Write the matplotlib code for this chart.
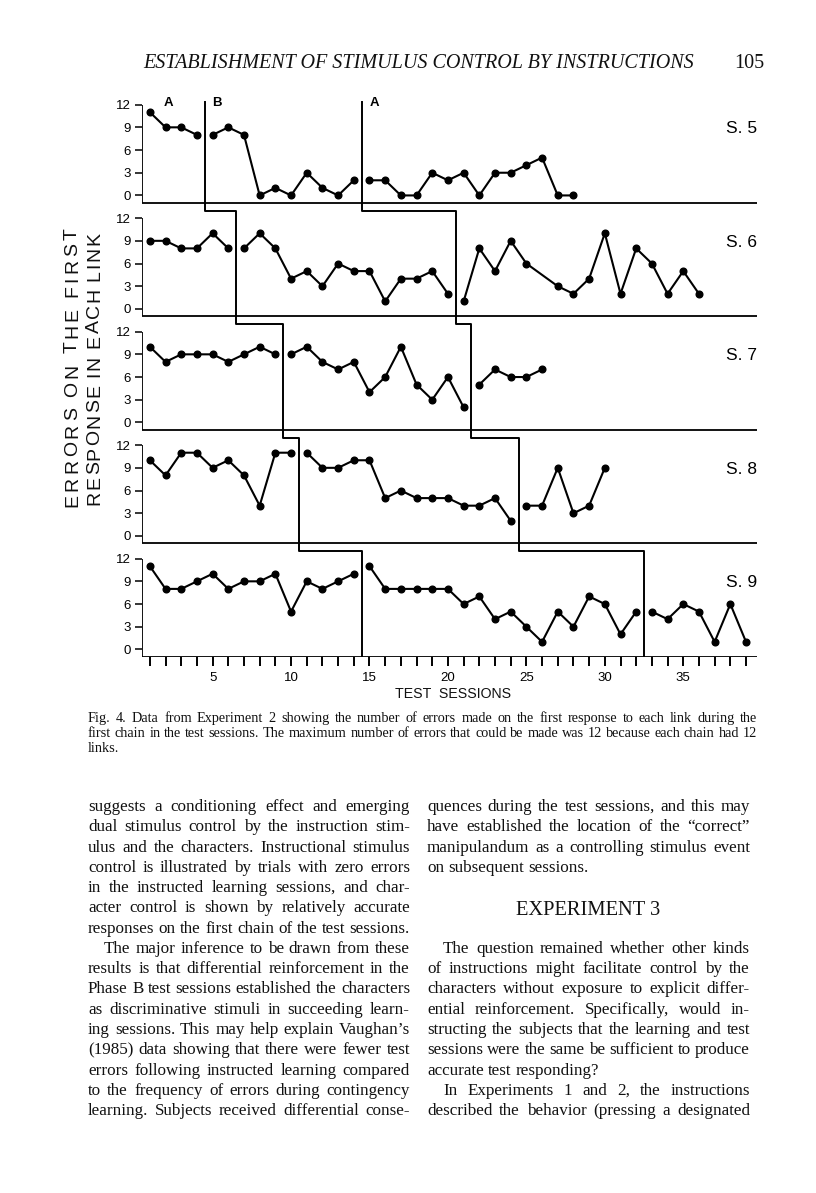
import numpy as np
import matplotlib
matplotlib.use('Agg')
import matplotlib.pyplot as plt

W, H = 816, 1193
SANS = 'Liberation Sans'
SERIF = 'Liberation Serif'
plt.rcParams['font.family'] = SANS

# ---- chart data -------------------------------------------------------
subjects = ['S. 5', 'S. 6', 'S. 7', 'S. 8', 'S. 9']
session_ticks = list(range(1, 40))
session_labels = [str(s) if s % 5 == 0 else '' for s in session_ticks]
error_ticks = [0, 3, 6, 9, 12]

# first session of phase B and of the return to phase A, per subject
b_start = [5, 7, 10, 11, 15]
a_start = [15, 21, 22, 25, 33]

phase_a1 = [
    [11, 9, 9, 8],
    [9, 9, 8, 8, 10, 8],
    [10, 8, 9, 9, 9, 8, 9, 10, 9],
    [10, 8, 11, 11, 9, 10, 8, 4, 11, 11],
    [11, 8, 8, 9, 10, 8, 9, 9, 10, 5, 9, 8, 9, 10],
]
phase_b = [
    [8, 9, 8, 0, 1, 0, 3, 1, 0, 2],
    [8, 10, 8, 4, 5, 3, 6, 5, 5, 1, 4, 4, 5, 2],
    [9, 10, 8, 7, 8, 4, 6, 10, 5, 3, 6, 2],
    [11, 9, 9, 10, 10, 5, 6, 5, 5, 5, 4, 4, 5, 2],
    [11, 8, 8, 8, 8, 8, 6, 7, 4, 5, 3, 1, 5, 3, 7, 6, 2, 5],
]
phase_a2 = [
    [2, 2, 0, 0, 3, 2, 3, 0, 3, 3, 4, 5, 0, 0],
    [1, 8, 5, 9, 6, None, 3, 2, 4, 10, 2, 8, 6, 2, 5, 2],
    [5, 7, 6, 6, 7],
    [4, 4, 9, 3, 4, 9],
    [5, 4, 6, 5, 1, 6, 1],
]
phase_names = ['A', 'B', 'A']
phase_name_x = [2.2, 5.3, 15.3]

# ---- page text ----------------------------------------------------------
header = 'ESTABLISHMENT OF STIMULUS CONTROL BY INSTRUCTIONS'
page_no = '105'
caption = [
    'Fig. 4.  Data from Experiment 2 showing the number of errors made on the first response to each link during the',
    'first chain in the test sessions. The maximum number of errors that could be made was 12 because each chain had 12',
    'links.',
]
left_col = [
    'suggests a conditioning effect and emerging',
    'dual stimulus control by the instruction stim-',
    'ulus and the characters. Instructional stimulus',
    'control is illustrated by trials with zero errors',
    'in the instructed learning sessions, and char-',
    'acter control is shown by relatively accurate',
    'responses on the first chain of the test sessions.',
    '\tThe major inference to be drawn from these',
    'results is that differential reinforcement in the',
    'Phase B test sessions established the characters',
    'as discriminative stimuli in succeeding learn-',
    'ing sessions. This may help explain Vaughan\u2019s',
    '(1985) data showing that there were fewer test',
    'errors following instructed learning compared',
    'to the frequency of errors during contingency',
    'learning. Subjects received differential conse-',
]
right_top = [
    'quences during the test sessions, and this may',
    'have established the location of the \u201ccorrect\u201d',
    'manipulandum as a controlling stimulus event',
    'on subsequent sessions.',
]
right_bottom = [
    '\tThe question remained whether other kinds',
    'of instructions might facilitate control by the',
    'characters without exposure to explicit differ-',
    'ential reinforcement. Specifically, would in-',
    'structing the subjects that the learning and test',
    'sessions were the same be sufficient to produce',
    'accurate test responding?',
    '\tIn Experiments 1 and 2, the instructions',
    'described the behavior (pressing a designated',
]
ragged = {'on subsequent sessions.', 'accurate test responding?', 'links.'}

fig = plt.figure(figsize=(W / 100, H / 100), dpi=100)
renderer = fig.canvas.get_renderer()


def text_width(s, **kw):
    t = fig.text(0, 0, s, **kw)
    w = t.get_window_extent(renderer).width
    t.remove()
    return w


def put(x, y, s, **kw):
    # x, y in image pixels, y measured from the top
    return fig.text(x / W, 1 - y / H, s, **kw)


def set_line(line, x0, x1, base, justify, indent=16, **kw):
    if line.startswith('\t'):
        x0 += indent
    words = line.split()
    widths = [text_width(w, **kw) for w in words]
    if justify and len(words) > 1:
        gap = (x1 - x0 - sum(widths)) / (len(words) - 1)
    else:
        gap = text_width('a a', **kw) - text_width('aa', **kw)
    x = x0
    for w, wd in zip(words, widths):
        put(x, base, w, ha='left', va='baseline', color='#111', **kw)
        x += wd + gap


def fit_size(lines, width, indent=16, **kw):
    ratios = []
    for line in lines:
        if line in ragged:
            continue
        ind = indent if line.startswith('\t') else 0
        ratios.append((width - ind) / text_width(line.strip(), fontsize=10, **kw))
    return 10 * min(ratios)


def vertical_label(s, xc, y_bottom, y_top, size):
    ws = [text_width(c, fontsize=size) if c != ' ' else size * 0.3 for c in s]
    track = ((y_bottom - y_top) - sum(ws)) / (len(s) - 1)
    cap = 0.716 * size * 100 / 72
    pos = y_bottom
    for c, w in zip(s, ws):
        if c != ' ':
            put(xc + cap / 2, pos, c, rotation=90, rotation_mode='anchor',
                ha='left', va='baseline', fontsize=size, color='#111')
        pos -= w + track


# ---- chart --------------------------------------------------------------
x_left, x_right = 0.48, 39.7
ax = fig.add_axes([141.7 / W, 1 - 657 / H, (757 - 141.7) / W, (657 - 89.5) / H])
ax.set_xlim(x_left, x_right)
ax.set_ylim(-1, 74)
for sp in ax.spines.values():
    sp.set_visible(False)

offsets = [60, 45, 30, 15, 0]
for k, name in enumerate(subjects):
    off = offsets[k]
    ax.axhline(off - 1, color='k', lw=1.3)
    ax.vlines(x_left, off - 1, off + 12, color='k', lw=1.3)
    for start, vals in [(1, phase_a1[k]), (b_start[k], phase_b[k]), (a_start[k], phase_a2[k])]:
        x = np.arange(start, start + len(vals))
        y = np.array([np.nan if v is None else v for v in vals], dtype=float)
        keep = ~np.isnan(y)
        ax.plot(x[keep], y[keep] + off, '-o', color='k', lw=1.5, ms=4.8)
    ax.text(x_right, off + 8.8, name, ha='right', va='center', fontsize=12.5)

# phase-change staircase lines
for starts in (b_start, a_start):
    cx = [s - 0.5 for s in starts]
    xs, ys = [cx[0]], [offsets[0] + 12.3]
    for k in range(1, len(cx)):
        xs += [cx[k - 1], cx[k]]
        ys += [offsets[k] + 13, offsets[k] + 13]
    xs.append(cx[-1])
    ys.append(-1)
    ax.plot(xs, ys, color='k', lw=1.4)

for name, xp in zip(phase_names, phase_name_x):
    ax.text(xp, offsets[0] + 12.2, name, ha='center', va='center', fontsize=9.5, fontweight='bold')

ax.set_yticks([off + t for off in offsets for t in error_ticks],
              [str(t) for off in offsets for t in error_ticks])
ax.set_xticks(session_ticks, session_labels)
ax.tick_params(axis='y', direction='out', length=4.8, width=1.1, pad=3, labelsize=9.5)
ax.tick_params(axis='x', direction='out', length=6.5, width=1.4, pad=4, labelsize=9.5)

vertical_label('ERRORS ON THE FIRST', 70, 507, 228, 14)
vertical_label('RESPONSE IN EACH LINK', 92, 505, 232, 14)

ts = 'TEST  SESSIONS'
put(395, 698, ts, ha='left', va='baseline', color='#111',
    fontsize=10 * 116 / text_width(ts, fontsize=10))

# ---- page text ----------------------------------------------------------
hsize = 10 * 552 / text_width(header, fontsize=10, family=SERIF, style='italic')
put(143, 68, header, ha='left', va='baseline', fontsize=hsize, family=SERIF, style='italic', color='#111')
put(764, 68, page_no, ha='right', va='baseline', fontsize=hsize, family=SERIF, color='#111')

cap_x0, cap_x1 = 88, 757
csize = fit_size(caption, cap_x1 - cap_x0, family=SERIF)
for i, line in enumerate(caption):
    set_line(line, cap_x0, cap_x1, 722 + i * 15, line not in ragged, fontsize=csize, family=SERIF)

lx0, lx1, rx0, rx1 = 88, 410, 427, 750
bsize = min(fit_size(left_col, lx1 - lx0, family=SERIF),
            fit_size(right_top + right_bottom, rx1 - rx0, family=SERIF))
base0, step = 811, 20.27
for i, line in enumerate(left_col):
    set_line(line, lx0, lx1, base0 + i * step, line not in ragged, fontsize=bsize, family=SERIF)
for i, line in enumerate(right_top):
    set_line(line, rx0, rx1, base0 + i * step, line not in ragged, fontsize=bsize, family=SERIF)
for i, line in enumerate(right_bottom):
    set_line(line, rx0, rx1, base0 + (i + 7) * step, line not in ragged, fontsize=bsize, family=SERIF)
put((rx0 + rx1) / 2, 915, 'EXPERIMENT 3', ha='center', va='baseline',
    fontsize=bsize * 1.2, family=SERIF, color='#111')

fig.savefig('out.png', dpi=100)
